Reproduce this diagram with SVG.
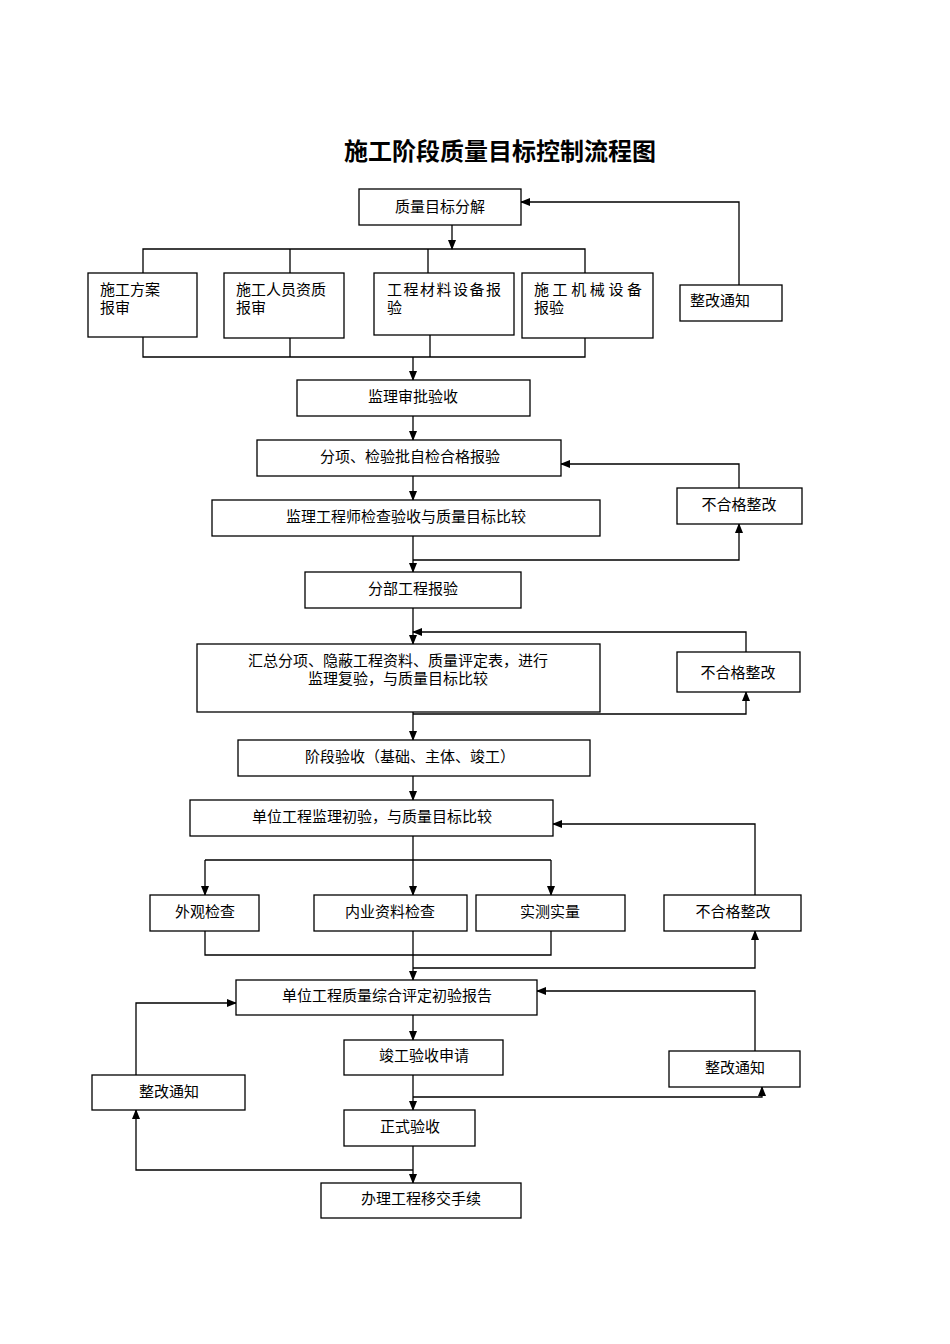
<svg xmlns="http://www.w3.org/2000/svg" width="950" height="1344" viewBox="0 0 950 1344">
<defs>
<marker id="a" markerWidth="10" markerHeight="10" refX="9" refY="5" orient="auto" markerUnits="userSpaceOnUse"><path d="M0,1 L10,5 L0,9 Z" fill="#000"/></marker>
<style>
rect{fill:#fff;stroke:#000;stroke-width:1.3}
text{font-family:"Liberation Serif","Noto Sans CJK SC",serif;font-size:15px;fill:#000}
.c{text-anchor:middle}
.l{fill:none;stroke:#000;stroke-width:1.3}
.t{font-size:24px;font-weight:bold}
</style>
</defs>
<rect x="0" y="0" width="950" height="1344" style="stroke:none"/>
<text class="c t" x="500" y="160">施工阶段质量目标控制流程图</text>
<g id="connectors">
<path class="l" d="M452,225 V249" marker-end="url(#a)"/>
<path class="l" d="M143,273 V249 H585 V273 M290,249 V273 M428,249 V273"/>
<path class="l" d="M143,337 V357 H585 V338 M290,338 V357 M430,335 V357"/>
<path class="l" d="M413,357 V380" marker-end="url(#a)"/>
<path class="l" d="M739,285 V202 H521" marker-end="url(#a)"/>
<path class="l" d="M413,416 V440" marker-end="url(#a)"/>
<path class="l" d="M413,476 V500" marker-end="url(#a)"/>
<path class="l" d="M739,488 V464 H561" marker-end="url(#a)"/>
<path class="l" d="M413,560 H739 V524" marker-end="url(#a)"/>
<path class="l" d="M413,536 V572" marker-end="url(#a)"/>
<path class="l" d="M413,608 V644" marker-end="url(#a)"/>
<path class="l" d="M746,652 V632 H413" marker-end="url(#a)"/>
<path class="l" d="M413,714 H746 V692" marker-end="url(#a)"/>
<path class="l" d="M413,712 V740" marker-end="url(#a)"/>
<path class="l" d="M413,776 V800" marker-end="url(#a)"/>
<path class="l" d="M413,836 V895" marker-end="url(#a)"/>
<path class="l" d="M205,860 H551"/>
<path class="l" d="M205,860 V895" marker-end="url(#a)"/>
<path class="l" d="M551,860 V895" marker-end="url(#a)"/>
<path class="l" d="M205,931 V955 H551 V931"/>
<path class="l" d="M413,931 V980" marker-end="url(#a)"/>
<path class="l" d="M413,968 H755 V931" marker-end="url(#a)"/>
<path class="l" d="M755,895 V824 H553" marker-end="url(#a)"/>
<path class="l" d="M755,1051 V991 H537" marker-end="url(#a)"/>
<path class="l" d="M413,1097 H762 V1087" marker-end="url(#a)"/>
<path class="l" d="M136,1075 V1003 H236" marker-end="url(#a)"/>
<path class="l" d="M413,1170 H136 V1110" marker-end="url(#a)"/>
<path class="l" d="M413,1015 V1040" marker-end="url(#a)"/>
<path class="l" d="M413,1075 V1110" marker-end="url(#a)"/>
<path class="l" d="M413,1146 V1183" marker-end="url(#a)"/>
</g>
<g id="n1"><rect x="359" y="189" width="162" height="36"/><text class="c" x="440" y="212">质量目标分解</text></g>
<g id="n2"><rect x="88" y="273" width="109" height="64"/><text x="100" y="295">施工方案</text><text x="100" y="313">报审</text></g>
<g id="n3"><rect x="224" y="273" width="120" height="65"/><text x="236" y="295">施工人员资质</text><text x="236" y="313">报审</text></g>
<g id="n4"><rect x="374" y="273" width="140" height="62"/><text x="387" y="295" textLength="114">工程材料设备报</text><text x="387" y="313">验</text></g>
<g id="n5"><rect x="522" y="273" width="131" height="65"/><text x="534" y="295" textLength="108">施工机械设备</text><text x="534" y="313">报验</text></g>
<g id="n6"><rect x="680" y="285" width="102" height="36"/><text class="c" x="720" y="306">整改通知</text></g>
<g id="n7"><rect x="297" y="380" width="233" height="36"/><text class="c" x="413" y="402">监理审批验收</text></g>
<g id="n8"><rect x="257" y="440" width="304" height="36"/><text class="c" x="410" y="462">分项、检验批自检合格报验</text></g>
<g id="n9"><rect x="212" y="500" width="388" height="36"/><text class="c" x="406" y="522">监理工程师检查验收与质量目标比较</text></g>
<g id="n10"><rect x="677" y="488" width="125" height="36"/><text class="c" x="739" y="510">不合格整改</text></g>
<g id="n11"><rect x="305" y="572" width="216" height="36"/><text class="c" x="413" y="594">分部工程报验</text></g>
<g id="n12"><rect x="197" y="644" width="403" height="68"/><text class="c" x="398" y="666">汇总分项、隐蔽工程资料、质量评定表，进行</text><text class="c" x="398" y="684">监理复验，与质量目标比较</text></g>
<g id="n13"><rect x="677" y="652" width="123" height="40"/><text class="c" x="738" y="678">不合格整改</text></g>
<g id="n14"><rect x="238" y="740" width="352" height="36"/><text class="c" x="410" y="762">阶段验收（基础、主体、竣工）</text></g>
<g id="n15"><rect x="190" y="800" width="363" height="36"/><text class="c" x="372" y="822">单位工程监理初验，与质量目标比较</text></g>
<g id="n16"><rect x="150" y="895" width="109" height="36"/><text class="c" x="205" y="917">外观检查</text></g>
<g id="n17"><rect x="314" y="895" width="153" height="36"/><text class="c" x="390" y="917">内业资料检查</text></g>
<g id="n18"><rect x="476" y="895" width="149" height="36"/><text class="c" x="550" y="917">实测实量</text></g>
<g id="n19"><rect x="664" y="895" width="137" height="36"/><text class="c" x="733" y="917">不合格整改</text></g>
<g id="n20"><rect x="236" y="980" width="301" height="35"/><text class="c" x="387" y="1001">单位工程质量综合评定初验报告</text></g>
<g id="n21"><rect x="669" y="1051" width="131" height="36"/><text class="c" x="735" y="1073">整改通知</text></g>
<g id="n22"><rect x="92" y="1075" width="153" height="35"/><text class="c" x="169" y="1097">整改通知</text></g>
<g id="n23"><rect x="344" y="1040" width="159" height="35"/><text class="c" x="424" y="1061">竣工验收申请</text></g>
<g id="n24"><rect x="344" y="1110" width="131" height="36"/><text class="c" x="410" y="1132">正式验收</text></g>
<g id="n25"><rect x="321" y="1183" width="200" height="35"/><text class="c" x="421" y="1204">办理工程移交手续</text></g>
</svg>
